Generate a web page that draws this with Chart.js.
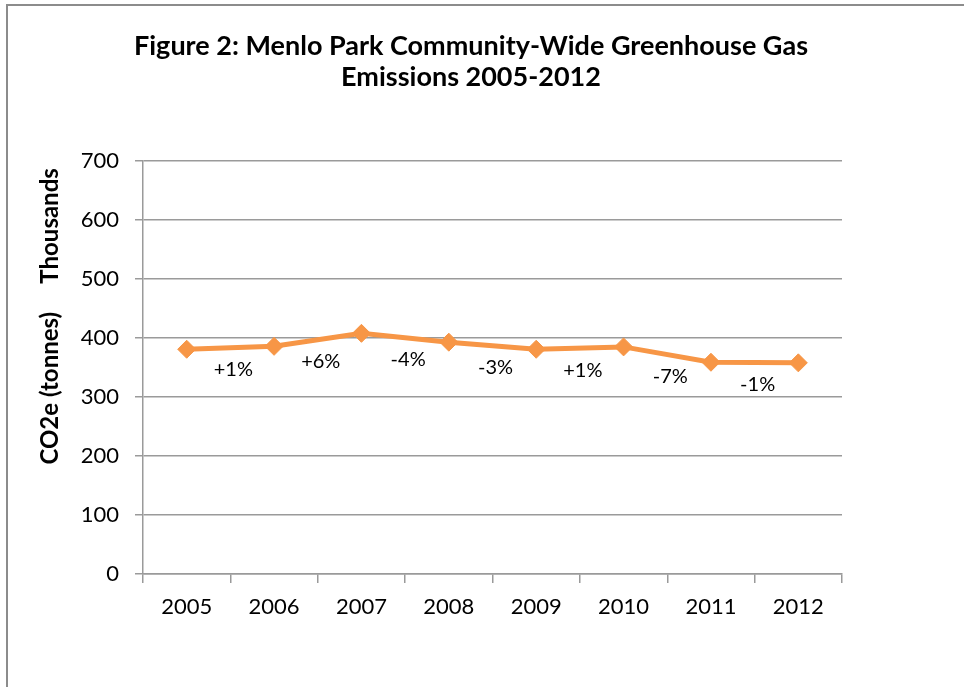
<!DOCTYPE html>
<html>
<head>
<meta charset="utf-8">
<script src="https://cdn.jsdelivr.net/npm/chart.js@4/dist/chart.umd.min.js"></script>
<style>
    html, body { margin: 0; padding: 0; background: #fff; }
    #wrap { width: 964px; height: 687px; position: relative; }
</style>
</head>
<body>
<div id="wrap"><canvas id="chart"></canvas></div>
<script>
// Data (thousands of tonnes CO2e)
const years = ['2005', '2006', '2007', '2008', '2009', '2010', '2011', '2012'];
const emissions = [381, 386, 408, 393, 381, 385, 359, 358];
const changeLabels = ['+1%', '+6%', '-4%', '-3%', '+1%', '-7%', '-1%'];
const yTicks = [0, 100, 200, 300, 400, 500, 600, 700];

const ORANGE = '#F79646';
const GRID = '#9a9a9a';
const FONT = 'Lato, "Open Sans", sans-serif';

// grey frame round the chart (left and top edges show in the picture)
const framePlugin = {
    id: 'frame',
    beforeDraw(chart) {
        const ctx = chart.ctx;
        ctx.save();
        ctx.fillStyle = '#fff';
        ctx.fillRect(0, 0, chart.width, chart.height);
        ctx.strokeStyle = '#8c8c8c';
        ctx.lineWidth = 2;
        ctx.strokeRect(7, 5, chart.width + 20, chart.height + 20);
        ctx.restore();
    }
};

// percent change labels under each segment
const changePlugin = {
    id: 'changeLabels',
    afterDatasetsDraw(chart) {
        const ctx = chart.ctx;
        const x = chart.scales.x, y = chart.scales.y;
        ctx.save();
        ctx.font = '20px ' + FONT;
        ctx.fillStyle = '#000';
        ctx.textAlign = 'center';
        ctx.textBaseline = 'middle';
        changeLabels.forEach((txt, i) => {
            const mx = (x.getPixelForValue(i) + x.getPixelForValue(i + 1)) / 2;
            const my = (y.getPixelForValue(emissions[i]) + y.getPixelForValue(emissions[i + 1])) / 2;
            ctx.fillText(txt, mx + 3, my + 22);
        });
        ctx.restore();
    }
};

// axis title and display-unit label, rotated
const yTitlePlugin = {
    id: 'yTitle',
    afterDraw(chart) {
        const ctx = chart.ctx;
        const area = chart.chartArea;
        ctx.save();
        ctx.font = 'bold 24px ' + FONT;
        ctx.fillStyle = '#000';
        ctx.textAlign = 'center';
        ctx.textBaseline = 'middle';
        ctx.translate(50, 0);
        ctx.rotate(-Math.PI / 2);
        ctx.fillText('CO2e (tonnes)', -(area.top + area.height * 0.55), 0);
        ctx.fillText('Thousands', -(area.top + area.height * 0.157), 0);
        ctx.restore();
    }
};

new Chart(document.getElementById('chart'), {
    type: 'line',
    data: {
        labels: years,
        datasets: [{
            data: emissions,
            borderColor: ORANGE,
            backgroundColor: ORANGE,
            borderWidth: 5,
            pointStyle: 'rectRot',
            pointRadius: 9,
            pointBorderWidth: 1,
            pointBackgroundColor: ORANGE,
            pointBorderColor: ORANGE,
            tension: 0
        }]
    },
    options: {
        responsive: true,
        maintainAspectRatio: false,
        animation: false,
        layout: { padding: { left: 7, right: 29, top: 5, bottom: 0 } },
        plugins: {
            legend: { display: false },
            tooltip: { enabled: false },
            title: {
                display: true,
                text: ['Figure 2: Menlo Park Community-Wide Greenhouse Gas', 'Emissions 2005-2012'],
                color: '#000',
                font: { family: FONT, size: 27, weight: 'bold', lineHeight: 1.15 },
                padding: { top: 26, bottom: 68 }
            }
        },
        scales: {
            x: {
                offset: true,
                grid: {
                    display: true,
                    offset: true,
                    drawOnChartArea: false,
                    color: GRID,
                    lineWidth: 1.5,
                    tickLength: 9
                },
                border: { display: true, color: GRID, width: 1.5 },
                ticks: {
                    color: '#000',
                    padding: 11,
                    font: { family: FONT, size: 22 },
                    maxRotation: 0
                },
                afterFit(scale) { scale.height = 113; }
            },
            y: {
                min: 0,
                max: 700,
                afterBuildTicks(scale) {
                    scale.ticks = yTicks.map(v => ({ value: v }));
                },
                grid: {
                    color: GRID,
                    lineWidth: 1.5,
                    tickLength: 8
                },
                border: { display: true, color: GRID, width: 1.5 },
                ticks: {
                    color: '#000',
                    padding: 16,
                    font: { family: FONT, size: 22 }
                },
                afterFit(scale) { scale.width = 136; }
            },
            yRight: {
                position: 'right',
                display: true,
                grid: { display: false, drawTicks: false },
                border: { display: false },
                ticks: { display: false },
                afterFit(scale) { scale.width = 93; }
            }
        }
    },
    plugins: [framePlugin, changePlugin, yTitlePlugin]
});
</script>
</body>
</html>
